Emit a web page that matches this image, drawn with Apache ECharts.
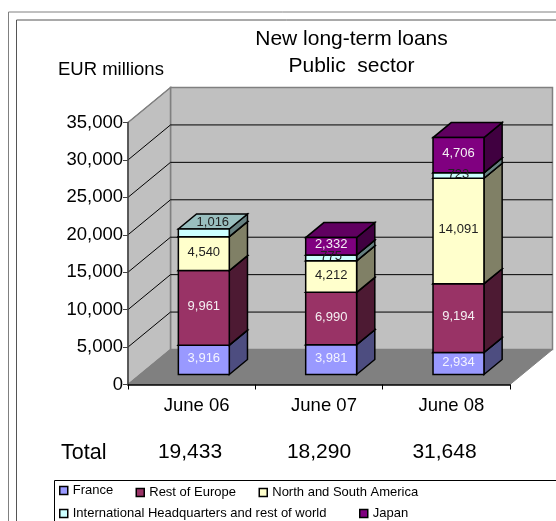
<!DOCTYPE html>
<html>
<head>
<meta charset="utf-8">
<style>html,body{margin:0;padding:0;background:#fff}#chart{width:556px;height:521px}</style>
<script src="https://cdn.jsdelivr.net/npm/echarts@6/dist/echarts.min.js"></script>
</head>
<body>
<div id="chart"></div>
<script>
// New long-term loans to the public sector, EUR millions
const categories = ['June 06', 'June 07', 'June 08'];
const france = [3916, 3981, 2934];
const restOfEurope = [9961, 6990, 9194];
const americas = [4540, 4212, 14091];
const headquarters = [1016, 775, 723];
const japan = [0, 2332, 4706];
const totals = [19433, 18290, 31648];
const yTicks = [5000, 10000, 15000, 20000, 25000, 30000, 35000];
const yMax = 35000;

const FONT = '"Liberation Sans", Arial, sans-serif';
const fmt = v => String(v).replace(/\B(?=(\d{3})+$)/g, ',');

// 3D projection: how far the back wall sits from the front plane, in pixels
const DEPTH_X = 42.5, DEPTH_Y = 35;
const BAR_NEAR = 0.286, BAR_FAR = 0.714, BAR_WIDTH = 0.4;

function poly(points, fill, stroke, lineWidth) {
  return { type: 'polygon', shape: { points }, silent: true,
    style: { fill, stroke: stroke || null, lineWidth: lineWidth || 0, lineJoin: 'miter' } };
}

// Left wall, back wall and floor
function renderWalls(params, api) {
  const cs = params.coordSys;
  const x0 = cs.x, x1 = cs.x + cs.width;
  const yB = api.coord([0, 0])[1], yT = api.coord([0, yMax])[1];
  const dx = DEPTH_X, dy = DEPTH_Y, edge = '#808080';
  return { type: 'group', children: [
    poly([[x0 + dx, yT - dy], [x1 + dx, yT - dy], [x1 + dx, yB - dy], [x0 + dx, yB - dy]], '#C0C0C0', edge, 1.5),
    poly([[x0, yT], [x0 + dx, yT - dy], [x0 + dx, yB - dy], [x0, yB]], '#C0C0C0', edge, 1.5),
    poly([[x0, yB], [x0 + dx, yB - dy], [x1 + dx, yB - dy], [x1, yB]], '#808080', edge, 1)
  ]};
}

// A gridline folds along the left wall and runs across the back wall
function renderGrid(params, api) {
  const cs = params.coordSys;
  const x0 = cs.x, x1 = cs.x + cs.width;
  const y = api.coord([0, api.value(0)])[1];
  const top = api.value(0) === yMax;
  return { type: 'polyline', silent: true,
    shape: { points: top
      ? [[x0, y], [x0 + DEPTH_X, y - DEPTH_Y]]
      : [[x0, y], [x0 + DEPTH_X, y - DEPTH_Y], [x1 + DEPTH_X, y - DEPTH_Y]] },
    style: { fill: null, stroke: top ? '#808080' : '#000', lineWidth: 1 } };
}

function mix(hex, k) {
  const n = parseInt(hex.slice(1), 16);
  const c = s => Math.round(((n >> s) & 255) * k);
  return 'rgb(' + c(16) + ',' + c(8) + ',' + c(0) + ')';
}

// One stacked segment: front, side and top faces plus its value label
function segmentRenderer(color, labelColor) {
  return function (params, api) {
    const cat = api.value(0), start = api.value(1), end = api.value(2);
    if (end <= start) return null;
    const band = api.size([1, 0])[0];
    const w = band * BAR_WIDTH;
    const offX = DEPTH_X * BAR_NEAR, offY = DEPTH_Y * BAR_NEAR;
    const backX = DEPTH_X * (BAR_FAR - BAR_NEAR), backY = DEPTH_Y * (BAR_FAR - BAR_NEAR);
    const pb = api.coord([cat, start]), pt = api.coord([cat, end]);
    const l = pb[0] - w / 2 + offX, r = l + w;
    const b = pb[1] - offY, t = pt[1] - offY;
    const line = '#000';
    const children = [
      poly([[r, t], [r + backX, t - backY], [r + backX, b - backY], [r, b]], mix(color, 0.5), line, 1.5),
      poly([[l, t], [r, t], [r + backX, t - backY], [l + backX, t - backY]], mix(color, 0.75), line, 1.5),
      poly([[l, t], [r, t], [r, b], [l, b]], color, line, 1.5)
    ];
    // The uppermost label of the first column sits on the column's top face
    const onTop = end === totals[cat] && japan[cat] === 0;
    children.push({ type: 'text', silent: true, z2: 100,
      style: { x: (l + r) / 2 + (onTop ? 9 : 0), y: (t + b) / 2 + (onTop ? -10.5 : -1.5),
        text: fmt(end - start), fill: labelColor, font: '13px ' + FONT,
        align: 'center', verticalAlign: 'middle' } });
    return { type: 'group', children };
  };
}

const segments = [
  { name: 'France', values: france, color: '#9999FF', label: '#F4F4FF' },
  { name: 'Rest of Europe', values: restOfEurope, color: '#993366', label: '#F4F0F2' },
  { name: 'North and South America', values: americas, color: '#FFFFCC', label: '#222' },
  { name: 'International Headquarters and rest of world', values: headquarters, color: '#CCFFFF', label: '#222' },
  { name: 'Japan', values: japan, color: '#800080', label: '#F4F0F4' }
];

const running = categories.map(() => 0);
const barSeries = segments.map(seg => ({
  type: 'custom', name: seg.name, z: 2, animation: false, silent: true,
  itemStyle: { color: seg.color },
  encode: { x: 0, y: [1, 2] },
  renderItem: segmentRenderer(seg.color, seg.label),
  data: seg.values.map((v, i) => {
    const row = [i, running[i], running[i] + v];
    running[i] += v;
    return row;
  })
}));

// Legend entries are laid out in two rows inside the framed box
const legendSlots = [[59, 484], [135.5, 486], [258.5, 486], [59, 507], [359, 507]];
const legends = segments.map((seg, i) => ({
  show: true, data: [seg.name], left: legendSlots[i][0], top: legendSlots[i][1], padding: 0,
  orient: 'horizontal', selectedMode: false, icon: 'rect', itemWidth: 8, itemHeight: 8, itemGap: 0,
  itemStyle: { borderColor: '#000', borderWidth: 1.5 },
  textStyle: { fontFamily: FONT, fontSize: 13, color: '#000', padding: [0, 0, 0, 0] }
}));

const totalX = [190, 319, 444.5];
const textStyle = (text, x, y, size, align) => ({
  type: 'text', silent: true, z: 20,
  style: { x, y, text, fill: '#000', font: size + 'px ' + FONT, align: align || 'center', verticalAlign: 'middle' }
});

const chart = echarts.init(document.getElementById('chart'), null, { renderer: 'canvas' });
chart.setOption({
  backgroundColor: '#fff',
  animation: false,
  title: [
    { text: 'New long-term loans\nPublic  sector', left: 346.5, top: 21, textAlign: 'center',
      textStyle: { fontFamily: FONT, fontSize: 21, fontWeight: 'normal', color: '#000', lineHeight: 27 } },
    { text: 'EUR millions', left: 53, top: 55,
      textStyle: { fontFamily: FONT, fontSize: 18.5, fontWeight: 'normal', color: '#000' } }
  ],
  legend: legends,
  grid: { left: 128, right: 46, top: 122.5, bottom: 136.5, containLabel: false },
  xAxis: {
    type: 'category', data: categories, z: 5,
    axisLine: { show: true, lineStyle: { color: '#000', width: 1.5 } },
    axisTick: { show: true, alignWithLabel: false, length: 5, lineStyle: { color: '#000', width: 1 } },
    axisLabel: { color: '#000', fontFamily: FONT, fontSize: 18.5, margin: 12, padding: [0, 0, 0, 10] },
    splitLine: { show: false }
  },
  yAxis: {
    type: 'value', min: 0, max: yMax, interval: 5000, z: 5,
    axisLine: { show: true, lineStyle: { color: '#444', width: 1.5 } },
    axisTick: { show: true, length: 5, lineStyle: { color: '#444', width: 1 } },
    axisLabel: { color: '#000', fontFamily: FONT, fontSize: 18.5, margin: 5, formatter: v => fmt(v) },
    splitLine: { show: false }
  },
  graphic: [
    { type: 'polyline', silent: true, z: 0, shape: { points: [[8.5, 521], [8.5, 12], [556, 12]] },
      style: { fill: null, stroke: '#808080', lineWidth: 1 } },
    { type: 'polyline', silent: true, z: 0, shape: { points: [[16.5, 521], [16.5, 20], [556, 20]] },
      style: { fill: null, stroke: '#555', lineWidth: 1 } },
    { type: 'polyline', silent: true, z: 0, shape: { points: [[54.5, 521], [54.5, 480.5], [556, 480.5]] },
      style: { fill: null, stroke: '#000', lineWidth: 1 } },
    textStyle('Total', 61, 453, 21.5, 'left')
  ].concat(totals.map((v, i) => textStyle(fmt(v), totalX[i], 452, 21))),
  series: [
    { type: 'custom', name: 'walls', z: 1, silent: true, animation: false, renderItem: renderWalls, data: [[0]], encode: { y: 0 } },
    { type: 'custom', name: 'gridlines', z: 1, silent: true, animation: false, renderItem: renderGrid, data: yTicks.map(v => [v]), encode: { y: 0 } }
  ].concat(barSeries)
});
</script>
</body>
</html>
